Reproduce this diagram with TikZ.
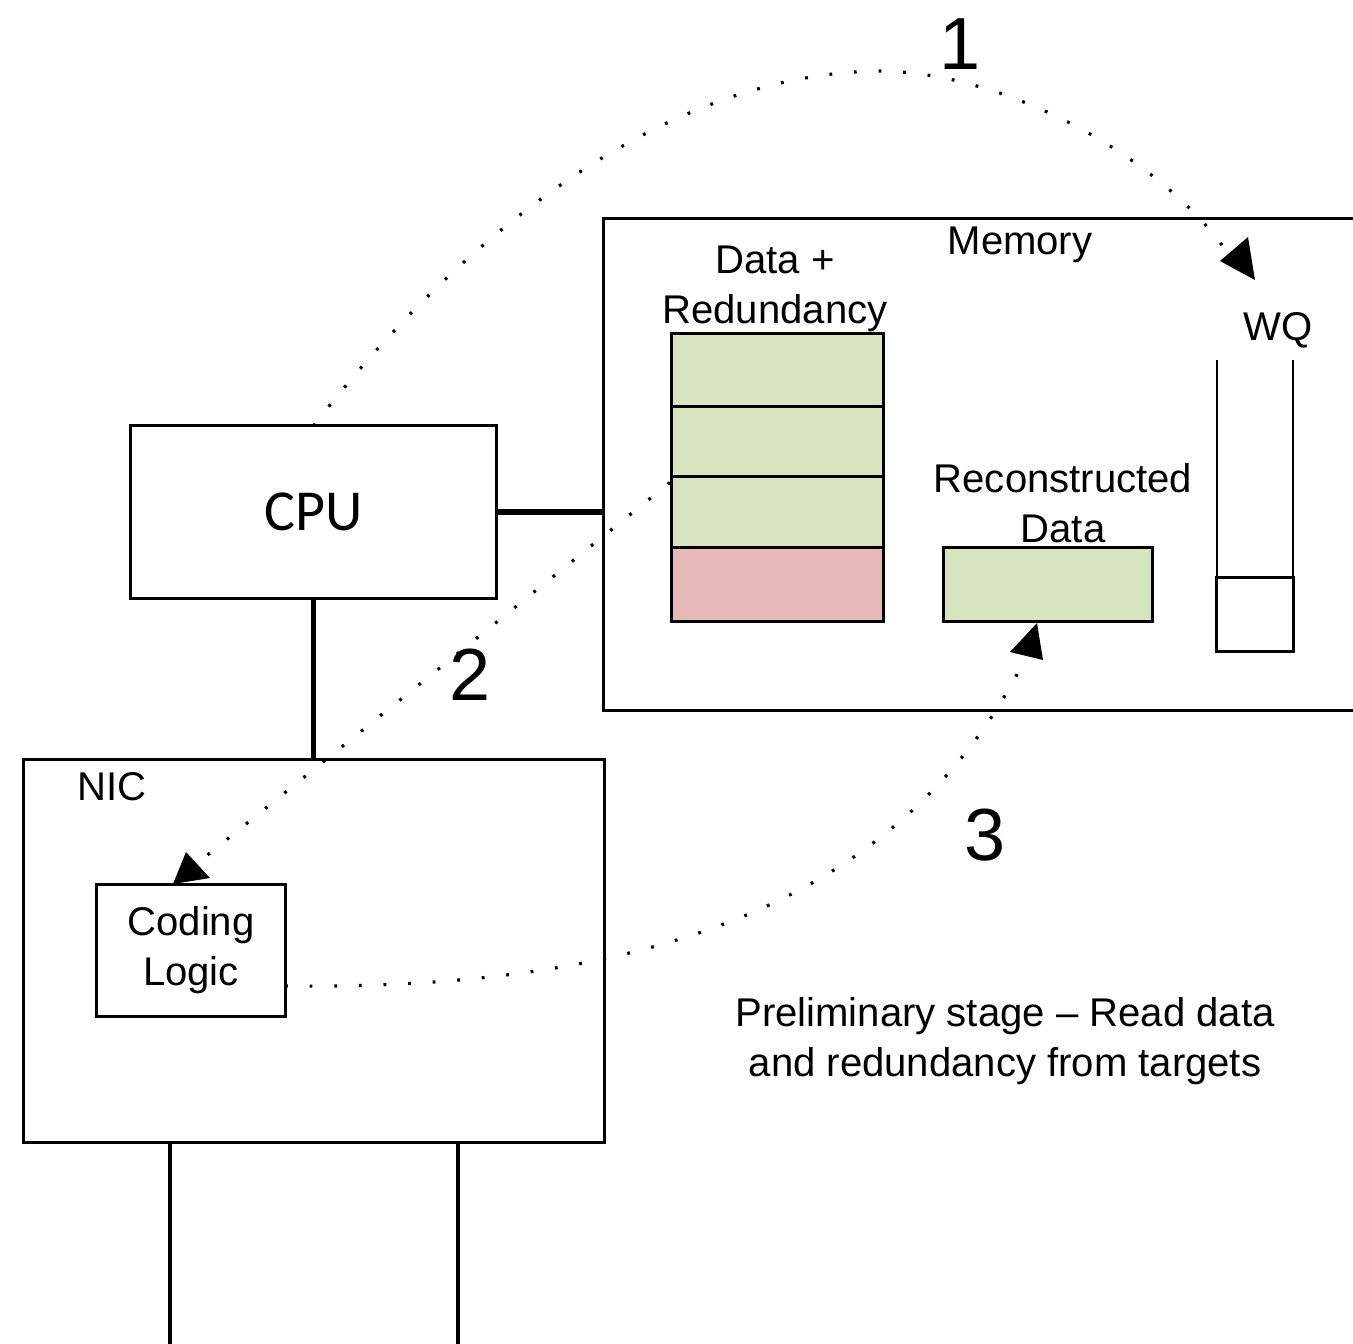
\documentclass[tikz,border=0pt]{standalone}
\usepackage{fontspec}
\setmainfont{Liberation Sans}
\newfontfamily\cpufont{Carlito}
\definecolor{cellgreen}{HTML}{D6E4BF}
\definecolor{cellred}{HTML}{E6B8B7}
\begin{document}
\begin{tikzpicture}[x=0.01cm,y=-0.01cm,
  box/.style={draw, line width=0.85pt, inner sep=0pt, outer sep=0pt},
  cellg/.style={box, fill=cellgreen, minimum width=2.11cm},
  cellr/.style={box, fill=cellred, minimum width=2.11cm},
  lbl/.style={inner sep=0pt, align=center, font=\fontsize{11.4}{14.2}\selectfont},
  num/.style={inner sep=0pt, font=\fontsize{21}{24}\selectfont},
  link/.style={line width=1.45pt},
  thin/.style={line width=0.95pt},
  dots/.style={line width=0.9pt, dash pattern=on 0.8pt off 6.2pt},
  tipfill/.style={fill=black, draw=none}
]
\useasboundingbox (0,0) rectangle (1353,1344);
\clip (0,0) rectangle (1353,1344);

% Memory
\node[box, minimum width=7.61cm, minimum height=4.91cm] (mem) at (984.5,464.5) {};
\node[lbl] (memlbl) at (1020,245) {Memory};

% Data + Redundancy stack
\node[lbl] (drlbl) at (775,289) {Data +\\Redundancy};
\node[cellg, minimum height=0.73cm] (st1) at (777.5,370.5) {};
\node[cellg, minimum height=0.70cm] (st2) at (777.5,442) {};
\node[cellg, minimum height=0.71cm] (st3) at (777.5,512.5) {};
\node[cellr, minimum height=0.73cm] (st4) at (777.5,584.5) {};

% Reconstructed data
\node[lbl] (rclbl) at (1063,503) {Reconstructed\\Data};
\node[box, fill=cellgreen, minimum width=2.08cm, minimum height=0.73cm] (rec) at (1048,584.5) {};

% WQ
\node[lbl] (wqlbl) at (1278,330) {WQ};
\node[box, minimum width=0.76cm, minimum height=0.73cm] (wqslot) at (1255,614.5) {};
\coordinate (wqtl) at (1217,360);
\coordinate (wqtr) at (1293,360);
\draw[line width=0.85pt] (wqtl) -- (wqtl |- wqslot.south) -- (wqtr |- wqslot.south) -- (wqtr);

% CPU
\node[box, minimum width=3.65cm, minimum height=1.72cm, font=\cpufont\fontsize{16.5}{18}\selectfont] (cpu) at (313.5,512) {CPU};

% NIC
\node[box, minimum width=5.80cm, minimum height=3.82cm] (nic) at (314,951) {};
\node[lbl] (niclbl) at (112,787) {NIC};
\node[box, minimum width=1.88cm, minimum height=1.31cm, lbl] (cl) at (191,950.5) {Coding\\Logic};

% solid links
\draw[link] (cpu.east) -- (mem.west |- cpu.east);
\draw[link] (cpu.south) -- (nic.north -| cpu.south);
\coordinate (p1) at (170,1350);
\coordinate (p2) at (458,1350);
\draw[thin] (nic.south -| p1) -- (p1);
\draw[thin] (nic.south -| p2) -- (p2);

% dotted arrows
\coordinate (a1) at (1222,245);
\coordinate (a2) at (205,857);
\coordinate (a3) at (1026,657);
\draw[dots] (cpu.north) .. controls (446,254) and (650,75) .. (877,71)
  .. controls (1000,71) and (1150,150) .. (a1);
\fill[tipfill] (1220,261) -- (1248,237) -- (1255,280) -- cycle;
\draw[dots] ([xshift=-0.02cm,yshift=-0.055cm]st3.north west) -- (a2);
\fill[tipfill] (186,852) -- (173,884) -- (210,878) -- cycle;
\draw[dots] ([yshift=-0.355cm]cl.east) .. controls (650,990) and (904,902) .. (a3);
\fill[tipfill] (1037,623) -- (1010,652) -- (1043,660) -- cycle;

% step numbers
\node[num] (n1) at (960,44) {1};
\node[num] (n2) at (470,675) {2};
\node[num] (n3) at (985,835) {3};

% caption
\node[lbl] (cap) at (1005,1041) {Preliminary stage -- Read data\\and redundancy from targets};
\end{tikzpicture}
\end{document}
